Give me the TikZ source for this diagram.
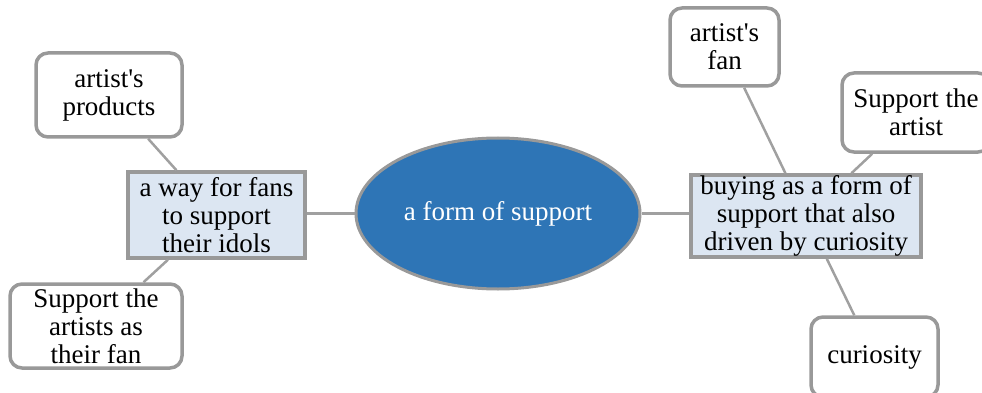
\documentclass[tikz,border=0pt]{standalone}
\usepackage{fontspec}
\setmainfont{Liberation Serif}[Ligatures=TeXOff]
\usetikzlibrary{shapes.geometric}
\definecolor{bordergray}{HTML}{999999}
\definecolor{linegray}{HTML}{A0A0A0}
\definecolor{paleblue}{HTML}{DCE6F2}
\definecolor{midblue}{HTML}{2E75B6}
\tikzset{
  leaf/.style={draw=bordergray, line width=3.5pt, rounded corners=12pt, fill=white,
    inner sep=0pt, align=center, font=\fontsize{27}{28}\selectfont},
  mid/.style={draw=bordergray, line width=3.5pt, fill=paleblue,
    inner sep=0pt, align=center, font=\fontsize{27}{28}\selectfont},
  hub/.style={ellipse, draw=bordergray, line width=3pt, fill=midblue, text=white,
    inner sep=0pt, align=center, font=\fontsize{27}{28}\selectfont},
  link/.style={draw=linegray, line width=2.5pt}
}
\begin{document}
\begin{tikzpicture}[x=1pt,y=-1pt]
\useasboundingbox (0,0) rectangle (982,393);
\clip (0,0) rectangle (982,393);
\node[hub, minimum width=284pt, minimum height=151pt] (hub) at (498,213.5) {a form of support};
\node[mid, minimum width=177pt, minimum height=86pt] (way) at (216.5,215) {a way for fans\\to support\\their idols};
\node[mid, minimum width=230pt, minimum height=82pt] (buy) at (806,216) {buying as a form of\\support that also\\driven by curiosity};
\node[leaf, minimum width=146pt, minimum height=84pt] (prod) at (109,95) {artist's\\products};
\node[leaf, minimum width=172pt, minimum height=84pt] (supa) at (96,326) {Support the\\artists as\\their fan};
\node[leaf, minimum width=109pt, minimum height=78pt] (fan) at (724.5,47) {artist's\\fan};
\node[leaf, minimum width=148pt, minimum height=79pt] (supart) at (916,112.5) {Support the\\artist};
\node[leaf, minimum width=127pt, minimum height=80pt] (cur) at (874.5,357) {curiosity};
\draw[link] (prod) -- (way);
\draw[link] (supa) -- (way);
\draw[link] (way.east |- hub) -- (hub);
\draw[link] (hub) -- (buy.west |- hub);
\draw[link] (fan) -- (buy);
\draw[link] (supart) -- (buy);
\draw[link] (buy) -- (cur);
\end{tikzpicture}
\end{document}
